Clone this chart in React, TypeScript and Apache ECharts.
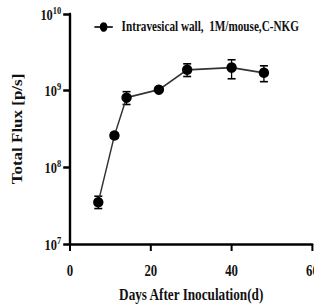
import React, { useEffect, useRef } from "react";
import * as echarts from "echarts";

const days = [7, 11, 14, 22, 29, 40, 48];
const flux = [3.5e7, 2.6e8, 8.1e8, 1.03e9, 1.87e9, 2.0e9, 1.71e9];
const fluxLow = [2.9e7, 2.4e8, 6.6e8, 0.98e9, 1.53e9, 1.43e9, 1.31e9];
const fluxHigh = [4.2e7, 2.8e8, 9.7e8, 1.08e9, 2.24e9, 2.53e9, 2.11e9];
const seriesName = "Intravesical wall,  1M/mouse,C-NKG";
const xTitle = "Days After Inoculation(d)";
const yTitle = "Total Flux [p/s]";

const FONT = "'Liberation Serif', 'Times New Roman', serif";
const SX = 0.8; // horizontal condensation of the whole figure
const W = 314 / SX;
const H = 305;

export default function App() {
  const ref = useRef<HTMLDivElement>(null);
  useEffect(() => {
    const chart = echarts.init(ref.current!, null, { renderer: "svg" });
    const pts = days.map((d, i) => [d, flux[i]]);
    const errs = days.map((d, i) => [d, fluxLow[i], fluxHigh[i]]);
    chart.setOption({
      animation: false,
      backgroundColor: "#fff",
      grid: { left: 70 / SX, right: 2 / SX, top: 14, bottom: 61, outerBoundsMode: "none", containLabel: false },
      legend: {
        show: true,
        data: [seriesName],
        left: 112,
        top: 15,
        itemWidth: 23,
        itemHeight: 12,
        textStyle: {
          fontFamily: FONT,
          fontWeight: "bold",
          fontSize: 14,
          color: "#111",
          padding: [0, 0, 0, 6],
        },
      },
      xAxis: {
        type: "value",
        min: 0,
        max: 60,
        interval: 20,
        name: xTitle,
        nameLocation: "middle",
        nameGap: 42,
        nameTextStyle: { fontFamily: FONT, fontWeight: "bold", fontSize: 16.5, color: "#111" },
        axisLine: { lineStyle: { color: "#000", width: 2.5 } },
        axisTick: { show: true, length: 7, lineStyle: { color: "#000", width: 2.5 } },
        axisLabel: {
          fontFamily: FONT,
          fontWeight: "bold",
          fontSize: 16,
          color: "#111",
          margin: 18,
          showMaxLabel: true,
        },
        splitLine: { show: false },
      },
      yAxis: {
        type: "log",
        logBase: 10,
        min: 1e7,
        max: 1e10,
        name: yTitle,
        nameLocation: "middle",
        nameGap: 57,
        nameTextStyle: { fontFamily: FONT, fontWeight: "bold", fontSize: 17, color: "#111" },
        axisLine: { show: true, lineStyle: { color: "#000", width: 3 } },
        axisTick: { show: true, length: 8.5, lineStyle: { color: "#000", width: 2.5 } },
        axisLabel: {
          margin: 11,
          formatter: (v: number) => {
            const e = Math.round(Math.log10(v));
            return "{b|10}{s|" + e + "}";
          },
          rich: {
            b: { fontFamily: FONT, fontWeight: "bold", fontSize: 15.5, color: "#111", lineHeight: 18 },
            s: {
              fontFamily: FONT,
              fontWeight: "bold",
              fontSize: 10.5,
              color: "#111",
              verticalAlign: "top",
              lineHeight: 10,
            },
          },
        },
        splitLine: { show: false },
      },
      series: [
        {
          name: seriesName,
          type: "line",
          data: pts,
          symbol: "circle",
          symbolSize: [13, 10.5],
          itemStyle: { color: "#000" },
          lineStyle: { color: "#333", width: 1.8 },
          z: 3,
        },
        {
          type: "custom",
          data: errs,
          z: 2,
          renderItem: (params: any, api: any) => {
            const x = api.value(0);
            const lo = api.coord([x, api.value(1)]);
            const hi = api.coord([x, api.value(2)]);
            const w = 5;
            const style = { stroke: "#000", lineWidth: 1.6 };
            return {
              type: "group",
              children: [
                { type: "line", shape: { x1: lo[0], y1: lo[1], x2: hi[0], y2: hi[1] }, style },
                { type: "line", shape: { x1: lo[0] - w, y1: lo[1], x2: lo[0] + w, y2: lo[1] }, style },
                { type: "line", shape: { x1: hi[0] - w, y1: hi[1], x2: hi[0] + w, y2: hi[1] }, style },
              ],
            };
          },
        },
      ],
    });
    return () => chart.dispose();
  }, []);
  return (
    <div style={{ position: "fixed", left: 0, top: 0, width: 314, height: H, overflow: "hidden", background: "#fff" }}>
      <div
        ref={ref}
        style={{
          position: "absolute",
          left: 0,
          top: 0,
          width: W,
          height: H,
          transform: `scaleX(${SX})`,
          transformOrigin: "0 0",
        }}
      />
    </div>
  );
}
